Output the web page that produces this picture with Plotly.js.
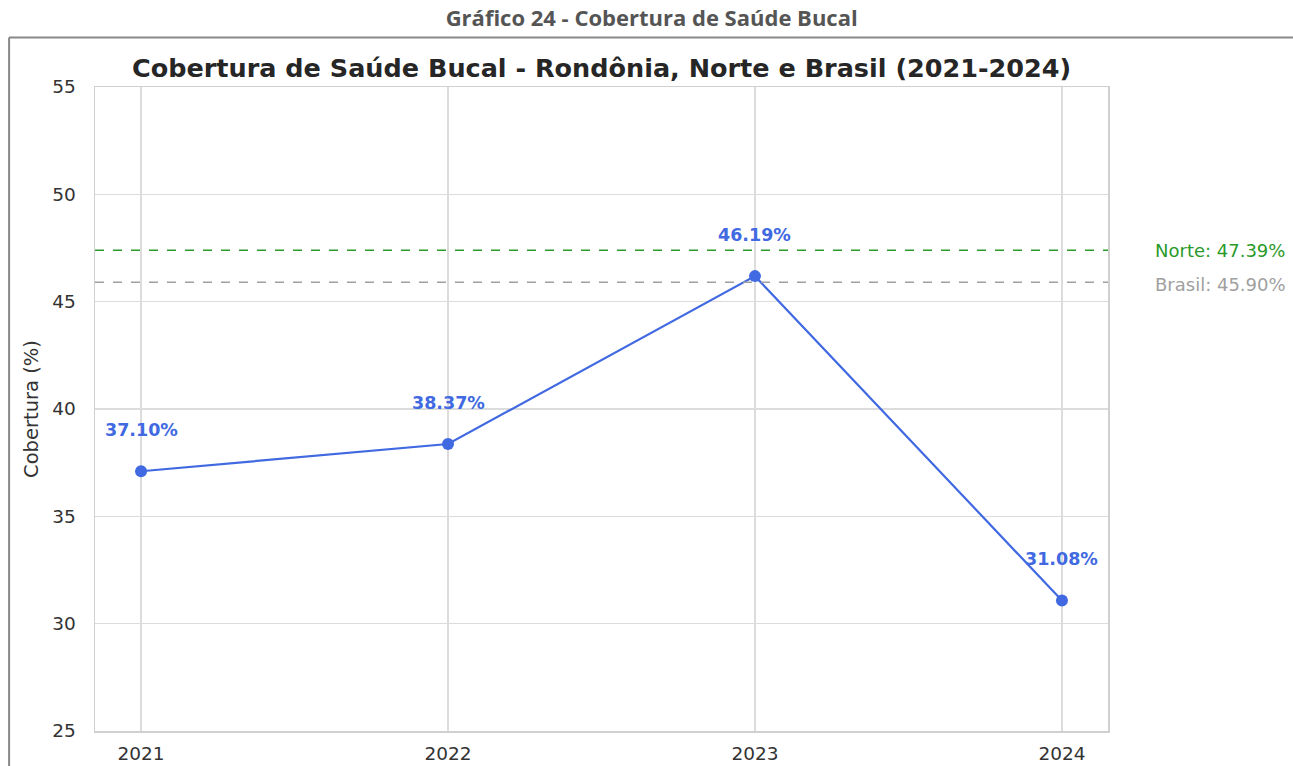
<!DOCTYPE html>
<html>
<head>
<meta charset="utf-8">
<script src="https://cdn.plot.ly/plotly-3.0.1.min.js"></script>
<style>html,body{margin:0;padding:0;background:#fff;}#chart{width:1293px;height:766px;}</style>
</head>
<body>
<div id="chart"></div>
<script>
const years = ['2021', '2022', '2023', '2024'];
const rondonia = [37.10, 38.37, 46.19, 31.08];
const norteValue = 47.39;
const brasilValue = 45.90;
const caption = 'Gráfico 24 - Cobertura de Saúde Bucal';
const chartTitle = 'Cobertura de Saúde Bucal - Rondônia, Norte e Brasil (2021-2024)';

const blue = '#4169E1';
const green = '#2a9a2a';
const grey = '#a0a0a0';

const xIdx = years.map((_, i) => i);

const traces = [{
  x: xIdx, y: rondonia, type: 'scatter', mode: 'lines+markers',
  line: {color: blue, width: 2.2},
  marker: {color: blue, size: 12},
  hoverinfo: 'skip', showlegend: false
}];

const annotations = rondonia.map((v, i) => ({
  x: i, y: v, xref: 'x', yref: 'y', text: v.toFixed(2) + '%',
  showarrow: false, yshift: 41,
  font: {family: 'DejaVu Sans', size: 17.5, color: blue, weight: 'bold'}
}));
annotations.push({
  xref: 'paper', yref: 'y', x: 1.044, y: norteValue, xanchor: 'left', showarrow: false,
  text: 'Norte: ' + norteValue.toFixed(2) + '%',
  font: {family: 'DejaVu Sans', size: 18, color: green}
});
annotations.push({
  xref: 'paper', yref: 'y', x: 1.044, y: brasilValue - 0.1, xanchor: 'left', showarrow: false,
  text: 'Brasil: ' + brasilValue.toFixed(2) + '%',
  font: {family: 'DejaVu Sans', size: 18, color: grey}
});
annotations.push({
  xref: 'paper', yref: 'paper', x: 0.5, y: 1.0295, xanchor: 'center', yanchor: 'middle', showarrow: false,
  text: chartTitle,
  font: {family: 'DejaVu Sans', size: 25.5, color: '#262626', weight: 'bold'}
});

const layout = {
  width: 1293, height: 766,
  margin: {l: 95, r: 185, t: 87, b: 35},
  paper_bgcolor: '#fff', plot_bgcolor: '#fff',
  title: {text: caption, x: 0.504, xanchor: 'center', y: 0.976, yanchor: 'middle',
    font: {family: 'Open Sans', size: 22, color: '#555', weight: 'bold'}},
  xaxis: {
    range: [-0.15, 3.15], tickmode: 'array', tickvals: xIdx, ticktext: years,
    showgrid: true, gridcolor: '#dcdcdc', gridwidth: 1.3, zeroline: false,
    showline: true, linecolor: '#d0d0d0', linewidth: 1.5, mirror: true,
    ticks: '', tickfont: {family: 'DejaVu Sans', size: 18.5, color: '#333'}, ticklabelstandoff: 5
  },
  yaxis: {
    range: [25, 55], dtick: 5, tick0: 25,
    showgrid: true, gridcolor: '#dcdcdc', gridwidth: 1.3, zeroline: false,
    showline: true, linecolor: '#d0d0d0', linewidth: 1.5, mirror: true,
    ticks: '', tickfont: {family: 'DejaVu Sans', size: 18.5, color: '#333'}, ticklabelstandoff: 14,
    title: {text: 'Cobertura (%)', standoff: 8, font: {family: 'DejaVu Sans', size: 19.5, color: '#333'}}
  },
  shapes: [
    {type: 'line', xref: 'paper', yref: 'y', x0: 0, x1: 1, y0: norteValue, y1: norteValue,
     line: {color: green, width: 1.5, dash: 'dash'}},
    {type: 'line', xref: 'paper', yref: 'y', x0: 0, x1: 1, y0: brasilValue, y1: brasilValue,
     line: {color: grey, width: 1.5, dash: 'dash'}},
    {type: 'line', xref: 'paper', yref: 'paper', x0: -0.0848, x1: 1.2, y0: 1.0767, y1: 1.0767,
     line: {color: '#888', width: 2}},
    {type: 'line', xref: 'paper', yref: 'paper', x0: -0.0848, x1: -0.0848, y0: 1.0767, y1: -0.06,
     line: {color: '#888', width: 2}}
  ],
  annotations: annotations
};

Plotly.newPlot('chart', traces, layout, {displayModeBar: false, staticPlot: true});
</script>
</body>
</html>
